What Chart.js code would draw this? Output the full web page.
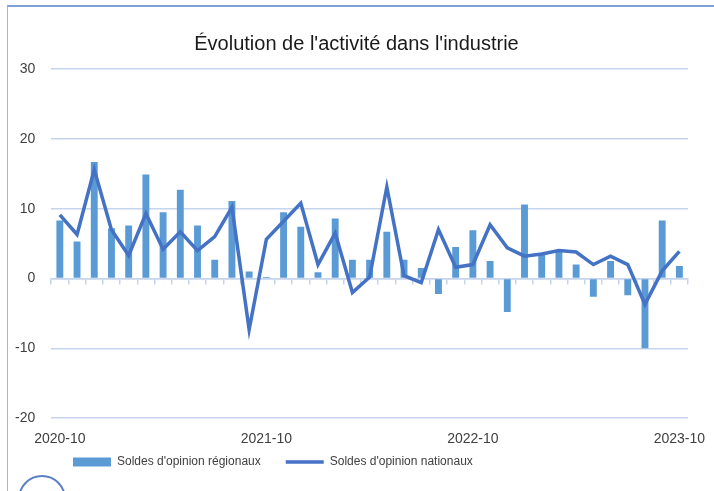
<!DOCTYPE html>
<html>
<head>
<meta charset="utf-8">
<script src="https://cdn.jsdelivr.net/npm/chart.js@4/dist/chart.umd.min.js"></script>
<style>
  html, body { margin: 0; padding: 0; background: #fff; }
  #wrap { position: relative; width: 714px; height: 491px; overflow: hidden; }
  #frame { position: absolute; left: 7px; top: 5px; right: 0; bottom: 0;
           border-left: 1px solid #9fb6de; border-top: 2px solid #7f9fd6; }
  #logo { position: absolute; left: 18px; top: 475px; width: 44px; height: 44px;
          border-radius: 50%; border: 2px solid #5b7fc6; }
  canvas { position: absolute; left: 0; top: 0; }
</style>
</head>
<body>
<div id="wrap">
  <div id="frame"></div>
  <div id="logo"></div>
  <canvas id="chart" width="714" height="491"></canvas>
</div>
<script>
// months, 2020-10 .. 2023-10
const months = [
  "2020-10","2020-11","2020-12","2021-01","2021-02","2021-03","2021-04","2021-05","2021-06",
  "2021-07","2021-08","2021-09","2021-10","2021-11","2021-12","2022-01","2022-02","2022-03",
  "2022-04","2022-05","2022-06","2022-07","2022-08","2022-09","2022-10","2022-11","2022-12",
  "2023-01","2023-02","2023-03","2023-04","2023-05","2023-06","2023-07","2023-08","2023-09",
  "2023-10"
];

// bars: soldes d'opinion régionaux
const regional = [
  8.3, 5.3, 16.7, 7.2, 7.6, 14.9, 9.5, 12.7, 7.6,
  2.7, 11.1, 1.0, 0.2, 9.5, 7.4, 0.9, 8.6, 2.7,
  2.7, 6.7, 2.7, 1.5, -2.2, 4.5, 6.9, 2.5, -4.8,
  10.6, 3.6, 3.9, 2.0, -2.6, 2.5, -2.4, -10.0, 8.3,
  1.8
];

// line: soldes d'opinion nationaux
const national = [
  9.1, 6.3, 15.6, 7.0, 3.3, 9.3, 4.2, 6.7, 4.0,
  6.0, 10.2, -7.3, 5.6, 8.2, 10.8, 2.0, 6.5, -2.0,
  0.2, 13.1, 0.4, -0.6, 7.0, 1.6, 2.0, 7.7, 4.4,
  3.2, 3.5, 4.0, 3.8, 2.0, 3.2, 2.0, -3.7, 1.1,
  3.9
];

const yTicks = [-20, -10, 0, 10, 20, 30];

const gridBlue = "#c6d5ec";
const textGrey = "#404040";
Chart.defaults.font.family = "'Liberation Sans', Arial, sans-serif";

// put legend and title where the original has them
const nudge = {
  id: "nudge",
  afterLayout(chart) {
    chart.legend.left = 48;
    chart.legend.top = 431;
    chart.titleBlock.left += 13;
    chart.titleBlock.right += 13;
  }
};

new Chart(document.getElementById("chart"), {
  type: "bar",
  data: {
    labels: months,
    datasets: [
      {
        type: "bar",
        label: "Soldes d'opinion régionaux",
        data: regional,
        backgroundColor: "#5b9bd5",
        borderWidth: 0,
        barPercentage: 0.4,
        categoryPercentage: 1,
        pointStyle: "rect",
        order: 2
      },
      {
        type: "line",
        label: "Soldes d'opinion nationaux",
        data: national,
        borderColor: "#4472c4",
        backgroundColor: "#4472c4",
        borderWidth: 3.5,
        pointRadius: 0,
        tension: 0,
        pointStyle: "line",
        order: 1
      }
    ]
  },
  options: {
    responsive: false,
    animation: false,
    layout: { padding: { left: -1, right: 26, top: 4, bottom: -17 } },
    plugins: {
      title: {
        display: true,
        text: "Évolution de l'activité dans l'industrie",
        color: "#1a1a1a",
        font: { size: 20, weight: "normal" },
        padding: { top: 28, bottom: 13 }
      },
      legend: {
        position: "bottom",
        align: "start",
        labels: {
          usePointStyle: true,
          pointStyleWidth: 38,
          boxHeight: 9,
          padding: 25,
          color: textGrey,
          font: { size: 12 },
          sort: (a, b) => a.datasetIndex - b.datasetIndex
        }
      },
      tooltip: { enabled: false }
    },
    scales: {
      y: {
        min: -20,
        max: 30,
        afterBuildTicks(axis) {
          axis.ticks = yTicks.map(v => ({ value: v }));
        },
        ticks: { color: textGrey, font: { size: 14 }, padding: 16 },
        grid: { color: gridBlue, lineWidth: 1.5, drawTicks: false },
        border: { display: false }
      },
      x: {
        position: { y: 0 },
        offset: true,
        ticks: { display: false },
        grid: { drawOnChartArea: false, drawTicks: true, tickLength: 5, color: gridBlue, lineWidth: 1.5 },
        border: { display: true, color: gridBlue, width: 1.5 }
      },
      xb: {
        type: "category",
        position: "bottom",
        offset: true,
        grid: { display: false, drawTicks: false },
        border: { display: false },
        // let the year labels hang past the plot edges
        afterFit(scale) {
          scale.paddingLeft = 0;
          scale.paddingRight = 0;
        },
        ticks: {
          autoSkip: false,
          maxRotation: 0,
          color: textGrey,
          font: { size: 14 },
          padding: 13,
          callback(value, index) {
            const m = months[index];
            return m.endsWith("-10") ? m : "";
          }
        }
      }
    }
  },
  plugins: [nudge]
});
</script>
</body>
</html>
